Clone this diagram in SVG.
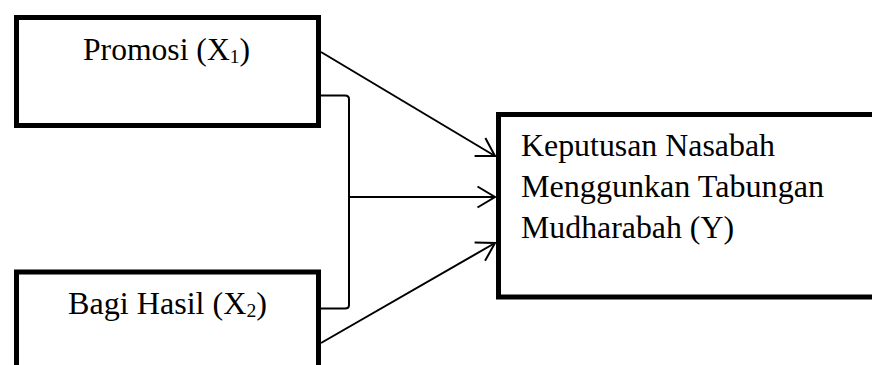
<svg xmlns="http://www.w3.org/2000/svg" width="872" height="365" viewBox="0 0 872 365">
  <style>
    .box { fill: #fff; stroke: #000; stroke-width: 5; }
    .lbl { font-family: "Liberation Serif", "Times New Roman", serif; font-size: 31px; fill: #000; }
    .sub { font-size: 19px; }
    .wire { fill: none; stroke: #000; stroke-width: 2; }
  </style>
  <defs>
    <marker id="open-arrow" markerUnits="userSpaceOnUse" markerWidth="24" markerHeight="28" viewBox="-22 -13 24 26" refX="0" refY="0" orient="auto">
      <path d="M-17.5,-10.5 L0,0 L-17.5,10.5" fill="none" stroke="#000" stroke-width="2"/>
    </marker>
  </defs>
  <rect width="872" height="365" fill="#fff"/>

  <g id="connectors">
    <line class="wire" x1="321" y1="52" x2="495" y2="156" marker-end="url(#open-arrow)"/>
    <line class="wire" x1="349" y1="197" x2="495" y2="197" marker-end="url(#open-arrow)"/>
    <line class="wire" x1="321" y1="343" x2="495" y2="243" marker-end="url(#open-arrow)"/>
    <path class="wire" d="M321,95.5 L345,95.5 Q349,95.5 349,99 L349,305 Q349,308.5 345,308.5 L321,308.5"/>
  </g>

  <g id="promosi">
    <rect class="box" x="16.5" y="17.5" width="302" height="108"/>
    <text class="lbl" x="83" y="60" textLength="167" lengthAdjust="spacingAndGlyphs">Promosi (X<tspan class="sub" dy="2.7">1</tspan><tspan dy="-2.7">)</tspan></text>
  </g>

  <g id="bagi-hasil">
    <rect class="box" x="16.5" y="272" width="302" height="110"/>
    <text class="lbl" x="68" y="314" textLength="199" lengthAdjust="spacingAndGlyphs">Bagi Hasil (X<tspan class="sub" dy="3">2</tspan><tspan dy="-3">)</tspan></text>
  </g>

  <g id="keputusan">
    <rect class="box" x="498.5" y="114.5" width="390" height="182.5"/>
    <text class="lbl" x="521" y="156" textLength="254" lengthAdjust="spacingAndGlyphs">Keputusan Nasabah</text>
    <text class="lbl" x="521" y="197" textLength="303" lengthAdjust="spacingAndGlyphs">Menggunkan Tabungan</text>
    <text class="lbl" x="521" y="238" textLength="213" lengthAdjust="spacingAndGlyphs">Mudharabah (Y)</text>
  </g>
</svg>
